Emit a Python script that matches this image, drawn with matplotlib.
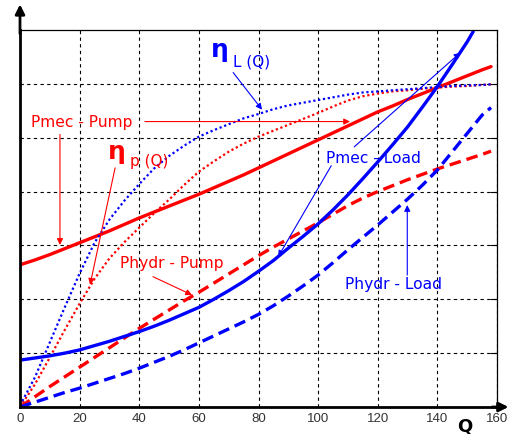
import matplotlib.pyplot as plt

# values (Q on x, y in grid units)
q = [0, 5, 10, 15, 20, 25, 30, 35, 40, 45, 50, 55, 60, 65, 70, 75, 80,
     85, 90, 95, 100, 105, 110, 115, 120, 125, 130, 135, 140, 145, 150, 155, 158]

pmec_pump = [2.64, 2.73, 2.83, 2.94, 3.05, 3.16, 3.27, 3.39, 3.51, 3.62, 3.73,
             3.84, 3.95, 4.07, 4.19, 4.31, 4.44, 4.57, 4.70, 4.83, 4.96, 5.09,
             5.22, 5.35, 5.48, 5.59, 5.71, 5.82, 5.93, 6.04, 6.15, 6.26, 6.32]
phydr_pump = [0.0, 0.19, 0.38, 0.56, 0.74, 0.92, 1.10, 1.28, 1.46, 1.63, 1.80,
              1.97, 2.13, 2.30, 2.47, 2.64, 2.81, 2.97, 3.12, 3.27, 3.42, 3.58,
              3.74, 3.88, 4.00, 4.11, 4.22, 4.32, 4.42, 4.51, 4.60, 4.69, 4.75]
eta_pump = [0.0, 0.42, 0.92, 1.43, 1.92, 2.38, 2.76, 3.06, 3.33, 3.60, 3.85,
            4.12, 4.37, 4.56, 4.74, 4.89, 5.02, 5.13, 5.24, 5.35, 5.46, 5.58,
            5.69, 5.77, 5.82, 5.86, 5.88, 5.91, 5.93, 5.95, 5.96, 5.98, 5.99]
eta_load = [0.03, 0.55, 1.20, 1.85, 2.48, 3.05, 3.48, 3.83, 4.14, 4.43, 4.66,
            4.85, 5.02, 5.14, 5.25, 5.36, 5.44, 5.53, 5.60, 5.65, 5.70, 5.75,
            5.80, 5.84, 5.86, 5.88, 5.90, 5.92, 5.94, 5.96, 5.97, 5.98, 5.99]
phydr_load = [0.0, 0.09, 0.18, 0.27, 0.35, 0.44, 0.53, 0.62, 0.72, 0.83, 0.94,
              1.06, 1.19, 1.32, 1.45, 1.58, 1.72, 1.88, 2.06, 2.25, 2.45, 2.68,
              2.92, 3.15, 3.38, 3.62, 3.86, 4.12, 4.40, 4.74, 5.08, 5.42, 5.56]

# Pmec of the load runs out of the top of the frame
q_load = [0, 5, 10, 15, 20, 25, 30, 35, 40, 45, 50, 55, 60, 65, 70, 75, 80,
          85, 90, 95, 100, 105, 110, 115, 120, 125, 130, 135, 140, 145, 150, 152]
pmec_load = [0.87, 0.91, 0.95, 1.00, 1.06, 1.14, 1.22, 1.31, 1.40, 1.50, 1.61,
             1.73, 1.85, 2.00, 2.16, 2.33, 2.52, 2.72, 2.95, 3.17, 3.40, 3.66,
             3.94, 4.24, 4.55, 4.87, 5.20, 5.57, 5.95, 6.36, 6.78, 6.97]

x_ticks = [0, 20, 40, 60, 80, 100, 120, 140, 160]

RED = "#ff0000"
BLUE = "#0000ff"

fig = plt.figure(figsize=(5.08, 4.34), dpi=100)
ax = fig.add_axes([20 / 508, 27 / 434, 477 / 508, 377 / 434])
ax.set_xlim(0, 160)
ax.set_ylim(0, 7)

# curves
ax.plot(q, pmec_pump, color=RED, lw=2.4, solid_capstyle="round")
ax.plot(q, phydr_pump, color=RED, lw=2.4, dashes=(3.5, 1.8))
ax.plot(q, eta_pump, color=RED, lw=1.6, dashes=(1, 1.2))
ax.plot(q, eta_load, color=BLUE, lw=1.6, dashes=(1, 1.2))
ax.plot(q, phydr_load, color=BLUE, lw=2.4, dashes=(3.5, 1.8))
ax.plot(q_load, pmec_load, color=BLUE, lw=2.4, solid_capstyle="round")

# grid and frame
ax.set_xticks(x_ticks)
ax.set_yticks(range(1, 7))
ax.grid(True, color="black", lw=0.8, ls=(0, (3, 3)))
ax.tick_params(axis="x", length=0, labelsize=9.5, labelcolor="#333333", pad=4)
for lab in ax.get_xticklabels():
    lab.set_fontfamily("Liberation Sans")
ax.tick_params(axis="y", left=False, right=True, direction="in", length=5,
               labelleft=False)
for side in ("top", "right"):
    ax.spines[side].set_linewidth(0.9)
for side in ("left", "bottom"):
    ax.spines[side].set_linewidth(2.0)

# axis arrows
ax.annotate("", xy=(0, 1.068), xytext=(0, 0.99), xycoords="axes fraction",
            arrowprops=dict(arrowstyle="-|>", color="black", lw=2.0,
                            mutation_scale=14, shrinkA=0, shrinkB=0))
ax.annotate("", xy=(1.024, 0), xytext=(0.99, 0), xycoords="axes fraction",
            arrowprops=dict(arrowstyle="-|>", color="black", lw=2.0,
                            mutation_scale=14, shrinkA=0, shrinkB=0))
fig.text(465 / 508, 1 - 426 / 434, "Q", fontsize=13, fontweight="bold",
         ha="center", va="center")

# labels with pointer arrows
def pointer(x0, y0, x1, y1, color):
    ax.annotate("", xy=(x1, y1), xytext=(x0, y0),
                arrowprops=dict(arrowstyle="-|>", color=color, lw=0.8,
                                mutation_scale=9, shrinkA=0, shrinkB=0))

txt = dict(fontsize=11.2, ha="center", va="center")

ax.text(20.8, 5.28, "Pmec - Pump", color=RED, **txt)
pointer(41.9, 5.30, 110.7, 5.30, RED)
pointer(13.4, 5.06, 13.4, 3.01, RED)

ax.text(51.0, 2.66, "Phydr - Pump", color=RED, **txt)
pointer(44.6, 2.42, 57.7, 2.08, RED)

ax.text(118.5, 4.61, "Pmec - Load", color=BLUE, **txt)
pointer(112.1, 4.83, 147.7, 6.58, BLUE)
pointer(104.4, 4.48, 86.6, 2.79, BLUE)

ax.text(125.2, 2.27, "Phydr - Load", color=BLUE, **txt)
pointer(129.9, 2.45, 129.9, 3.75, BLUE)

ax.text(67.1, 6.62, "η", color=BLUE, fontsize=18, fontweight="bold",
        ha="center", va="center")
ax.text(71.3, 6.40, "L (Q)", color=BLUE, fontsize=11, ha="left", va="center")
pointer(71.5, 6.21, 81.2, 5.52, BLUE)

ax.text(32.6, 4.74, "η", color=RED, fontsize=18, fontweight="bold",
        ha="center", va="center")
ax.text(37.0, 4.55, "p (Q)", color=RED, fontsize=11, ha="left", va="center")
pointer(31.9, 4.44, 23.5, 2.27, RED)

fig.savefig("out.png", dpi=100)
